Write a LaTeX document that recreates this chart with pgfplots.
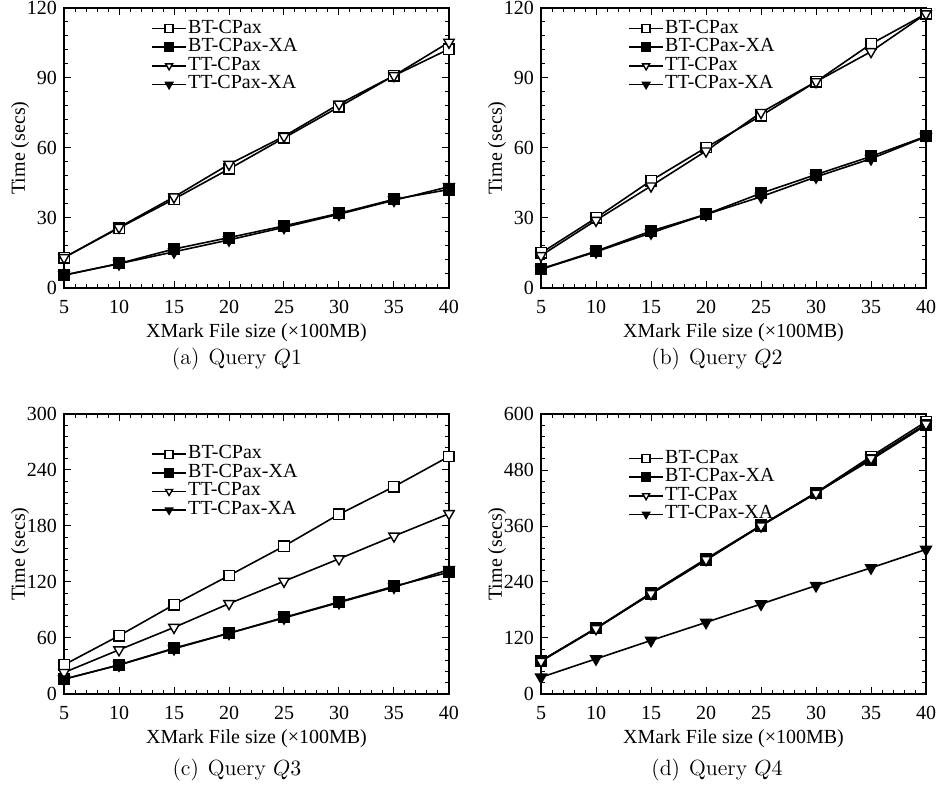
\documentclass[border=0pt]{standalone}
\usepackage{fontspec}
\newfontfamily\tms{Liberation Serif}
\usepackage{pgfplots}
\pgfplotsset{compat=1.18}

\pgfplotsset{
  qpanel/.style={
    scale only axis, width=192.5pt, height=140pt,
    xmin=5, xmax=40, ymin=0,
    xtick={5,10,...,40}, minor tick num=4,
    tick align=inside, major tick length=3.5pt, minor tick length=2pt,
    axis line style={line width=0.9pt}, every tick/.style={black, line width=0.5pt},
    font=\tms\fontsize{10}{12}\selectfont,
    /pgf/number format/assume math mode=true,
    xlabel={XMark File size (×100MB)}, ylabel={Time (secs)},
    xticklabel style={yshift=-2.5pt},
    xlabel style={yshift=2pt}, ylabel style={yshift=-8pt},
    legend cell align=left,
    legend style={draw=none, fill=none, anchor=north west, row sep=0pt,
      nodes={inner sep=0.6pt, text height=6.3pt, text depth=1.8pt,
        font=\tms\fontsize{10}{11}\selectfont}},
    legend image post style={mark size=2pt},
    every axis plot/.append style={black, line width=0.8pt},
  },
  bt/.style={mark=square*, mark size=2.6pt, mark options={fill=white, solid, line width=0.7pt}},
  btxa/.style={mark=square*, mark size=2.6pt, mark options={fill=black, solid}},
  tt/.style={mark=triangle*, mark size=3pt, mark options={fill=white, rotate=180, solid, line width=0.7pt}},
  ttxa/.style={mark=triangle*, mark size=3pt, mark options={fill=black, rotate=180, solid}},
}

\begin{document}
\begin{tikzpicture}
\path[use as bounding box] (0,0) rectangle (468pt,392.5pt);

% (a) Query Q1
\begin{axis}[qpanel, at={(32pt,248.5pt)}, ymax=120, ytick={0,30,...,120},
  legend style={at={(0.21,0.975)}}]
\addplot[bt] coordinates {(5,13)(10,25.7)(15,38.1)(20,51)(25,64.3)(30,77.6)(35,91)(40,102.4)};
\addplot[btxa] coordinates {(5,5.5)(10,10.5)(15,16.7)(20,21.6)(25,26.6)(30,32)(35,38)(40,42.2)};
\addplot[tt] coordinates {(5,13)(10,26)(15,39)(20,53)(25,65)(30,78.8)(35,91)(40,105.3)};
\addplot[ttxa] coordinates {(5,5.5)(10,10.4)(15,15.5)(20,20.6)(25,26)(30,31.6)(35,37.6)(40,43.4)};
\legend{BT-CPax, BT-CPax-XA, TT-CPax, TT-CPax-XA}
\end{axis}

% (b) Query Q2
\begin{axis}[qpanel, at={(270.5pt,248.5pt)}, ymax=120, ytick={0,30,...,120},
  legend style={at={(0.21,0.975)}}]
\addplot[bt] coordinates {(5,15)(10,30)(15,46)(20,60.2)(25,73.8)(30,88.4)(35,104.6)(40,117.5)};
\addplot[btxa] coordinates {(5,8.2)(10,15.8)(15,24.4)(20,31.6)(25,40.6)(30,48.6)(35,56.4)(40,65)};
\addplot[tt] coordinates {(5,13.9)(10,29)(15,43.7)(20,58.7)(25,75.2)(30,88.4)(35,101.3)(40,117.5)};
\addplot[ttxa] coordinates {(5,8)(10,15.5)(15,23.6)(20,31.5)(25,39.1)(30,47.6)(35,55.4)(40,64.8)};
\legend{BT-CPax, BT-CPax-XA, TT-CPax, TT-CPax-XA}
\end{axis}

% (c) Query Q3
\begin{axis}[qpanel, at={(32pt,45.5pt)}, ymax=300, ytick={0,60,...,300},
  legend style={at={(0.21,0.905)}}]
\addplot[bt] coordinates {(5,31.2)(10,62.4)(15,95.7)(20,126.9)(25,158.4)(30,192.5)(35,222.2)(40,254.5)};
\addplot[btxa] coordinates {(5,15.8)(10,31.2)(15,49.1)(20,65.2)(25,82)(30,98.6)(35,115.4)(40,130.5)};
\addplot[tt] coordinates {(5,23)(10,47.3)(15,71.3)(20,96.8)(25,120.8)(30,144.8)(35,169.2)(40,193.2)};
\addplot[ttxa] coordinates {(5,16)(10,31)(15,48.5)(20,65)(25,81.5)(30,98)(35,114.5)(40,133.3)};
\legend{BT-CPax, BT-CPax-XA, TT-CPax, TT-CPax-XA}
\end{axis}

% (d) Query Q4
\begin{axis}[qpanel, at={(270.5pt,45.5pt)}, ymax=600, ytick={0,120,...,600},
  legend style={at={(0.21,0.89)}}]
\addplot[bt] coordinates {(5,71)(10,141)(15,216.5)(20,289.6)(25,361.3)(30,431.5)(35,509)(40,583.5)};
\addplot[btxa] coordinates {(5,71)(10,141)(15,214.3)(20,286.7)(25,361)(30,431)(35,501.8)(40,576)};
\addplot[tt] coordinates {(5,70)(10,140)(15,215)(20,288)(25,360)(30,430)(35,505)(40,578.5)};
\addplot[ttxa] coordinates {(5,35.8)(10,75.3)(15,114.7)(20,153.4)(25,192.8)(30,232.3)(35,270.3)(40,309.7)};
\legend{BT-CPax, BT-CPax-XA, TT-CPax, TT-CPax-XA}
\end{axis}

% sub-captions
\begin{scope}[every node/.style={font=\fontsize{11}{13}\selectfont}]
\node at (118.5pt,213pt) {(a)\hspace{4.5pt}Query $Q1$};
\node at (358.5pt,213pt) {(b)\hspace{4.5pt}Query $Q2$};
\node at (118.5pt,7.5pt) {(c)\hspace{4.5pt}Query $Q3$};
\node at (358.5pt,7.5pt) {(d)\hspace{4.5pt}Query $Q4$};
\end{scope}
\end{tikzpicture}
\end{document}
